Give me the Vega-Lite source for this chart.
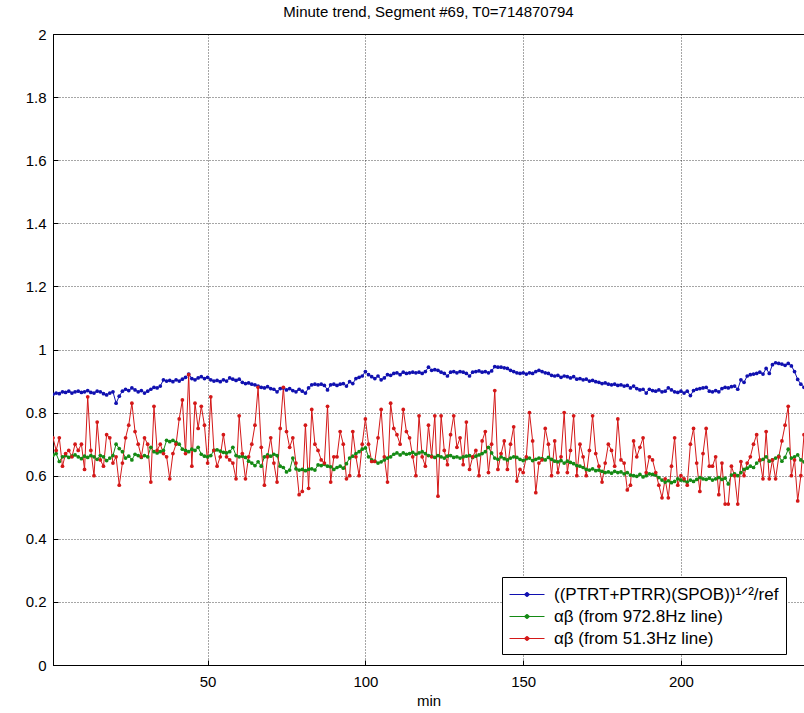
{
  "$schema": "https://vega.github.io/schema/vega-lite/v6.json",
  "width": 751,
  "height": 631,
  "autosize": {"type": "none"},
  "padding": {"left": 53, "top": 34, "right": 0, "bottom": 48},
  "background": "white",
  "config": {
    "font": "Liberation Sans",
    "view": {"stroke": "#000000", "strokeWidth": 1},
    "axis": {
      "domainColor": "#000000",
      "tickColor": "#000000",
      "labelColor": "#000000",
      "titleColor": "#000000",
      "labelFont": "Liberation Sans",
      "titleFont": "Liberation Sans",
      "labelFontSize": 15,
      "titleFontSize": 15,
      "titleFontWeight": "normal",
      "gridColor": "#000000",
      "gridDash": [1, 2],
      "gridOpacity": 0.7,
      "gridWidth": 1
    }
  },
  "title": {
    "text": "Minute trend, Segment #69, T0=714870794",
    "font": "Liberation Sans",
    "fontSize": 15,
    "fontWeight": "normal",
    "color": "#000000",
    "anchor": "middle",
    "frame": "group",
    "offset": 7
  },
  "datasets": {
    "trend": [
      {"t":1,"ratio":0.858,"ab972":0.665,"ab51":0.72},
      {"t":2,"ratio":0.862,"ab972":0.670,"ab51":0.68},
      {"t":3,"ratio":0.860,"ab972":0.645,"ab51":0.72},
      {"t":4,"ratio":0.866,"ab972":0.660,"ab51":0.63},
      {"t":5,"ratio":0.864,"ab972":0.664,"ab51":0.67},
      {"t":6,"ratio":0.868,"ab972":0.658,"ab51":0.68},
      {"t":7,"ratio":0.862,"ab972":0.662,"ab51":0.66},
      {"t":8,"ratio":0.866,"ab972":0.666,"ab51":0.70},
      {"t":9,"ratio":0.868,"ab972":0.660,"ab51":0.68},
      {"t":10,"ratio":0.864,"ab972":0.654,"ab51":0.70},
      {"t":11,"ratio":0.866,"ab972":0.662,"ab51":0.62},
      {"t":12,"ratio":0.870,"ab972":0.658,"ab51":0.85},
      {"t":13,"ratio":0.864,"ab972":0.664,"ab51":0.68},
      {"t":14,"ratio":0.862,"ab972":0.660,"ab51":0.60},
      {"t":15,"ratio":0.868,"ab972":0.652,"ab51":0.77},
      {"t":16,"ratio":0.866,"ab972":0.664,"ab51":0.65},
      {"t":17,"ratio":0.860,"ab972":0.660,"ab51":0.63},
      {"t":18,"ratio":0.856,"ab972":0.648,"ab51":0.73},
      {"t":19,"ratio":0.862,"ab972":0.656,"ab51":0.72},
      {"t":20,"ratio":0.866,"ab972":0.664,"ab51":0.64},
      {"t":21,"ratio":0.830,"ab972":0.700,"ab51":0.66},
      {"t":22,"ratio":0.852,"ab972":0.686,"ab51":0.57},
      {"t":23,"ratio":0.868,"ab972":0.676,"ab51":0.64},
      {"t":24,"ratio":0.874,"ab972":0.656,"ab51":0.72},
      {"t":25,"ratio":0.870,"ab972":0.662,"ab51":0.76},
      {"t":26,"ratio":0.878,"ab972":0.650,"ab51":0.83},
      {"t":27,"ratio":0.872,"ab972":0.668,"ab51":0.74},
      {"t":28,"ratio":0.866,"ab972":0.664,"ab51":0.70},
      {"t":29,"ratio":0.870,"ab972":0.658,"ab51":0.66},
      {"t":30,"ratio":0.862,"ab972":0.664,"ab51":0.72},
      {"t":31,"ratio":0.868,"ab972":0.660,"ab51":0.70},
      {"t":32,"ratio":0.874,"ab972":0.690,"ab51":0.58},
      {"t":33,"ratio":0.880,"ab972":0.676,"ab51":0.82},
      {"t":34,"ratio":0.878,"ab972":0.672,"ab51":0.68},
      {"t":35,"ratio":0.884,"ab972":0.676,"ab51":0.70},
      {"t":36,"ratio":0.904,"ab972":0.680,"ab51":0.67},
      {"t":37,"ratio":0.900,"ab972":0.712,"ab51":0.66},
      {"t":38,"ratio":0.902,"ab972":0.708,"ab51":0.59},
      {"t":39,"ratio":0.898,"ab972":0.712,"ab51":0.67},
      {"t":40,"ratio":0.904,"ab972":0.706,"ab51":0.70},
      {"t":41,"ratio":0.900,"ab972":0.700,"ab51":0.78},
      {"t":42,"ratio":0.906,"ab972":0.684,"ab51":0.84},
      {"t":43,"ratio":0.912,"ab972":0.680,"ab51":0.67},
      {"t":44,"ratio":0.922,"ab972":0.676,"ab51":0.92},
      {"t":45,"ratio":0.908,"ab972":0.684,"ab51":0.63},
      {"t":46,"ratio":0.904,"ab972":0.680,"ab51":0.83},
      {"t":47,"ratio":0.910,"ab972":0.690,"ab51":0.75},
      {"t":48,"ratio":0.914,"ab972":0.668,"ab51":0.82},
      {"t":49,"ratio":0.908,"ab972":0.662,"ab51":0.76},
      {"t":50,"ratio":0.912,"ab972":0.660,"ab51":0.64},
      {"t":51,"ratio":0.904,"ab972":0.664,"ab51":0.85},
      {"t":52,"ratio":0.900,"ab972":0.680,"ab51":0.68},
      {"t":53,"ratio":0.902,"ab972":0.682,"ab51":0.63},
      {"t":54,"ratio":0.898,"ab972":0.678,"ab51":0.66},
      {"t":55,"ratio":0.904,"ab972":0.674,"ab51":0.73},
      {"t":56,"ratio":0.900,"ab972":0.672,"ab51":0.66},
      {"t":57,"ratio":0.910,"ab972":0.676,"ab51":0.65},
      {"t":58,"ratio":0.906,"ab972":0.690,"ab51":0.64},
      {"t":59,"ratio":0.902,"ab972":0.664,"ab51":0.59},
      {"t":60,"ratio":0.906,"ab972":0.660,"ab51":0.79},
      {"t":61,"ratio":0.896,"ab972":0.662,"ab51":0.67},
      {"t":62,"ratio":0.892,"ab972":0.658,"ab51":0.59},
      {"t":63,"ratio":0.894,"ab972":0.646,"ab51":0.66},
      {"t":64,"ratio":0.890,"ab972":0.640,"ab51":0.70},
      {"t":65,"ratio":0.888,"ab972":0.632,"ab51":0.76},
      {"t":66,"ratio":0.884,"ab972":0.644,"ab51":0.88},
      {"t":67,"ratio":0.880,"ab972":0.630,"ab51":0.69},
      {"t":68,"ratio":0.878,"ab972":0.660,"ab51":0.57},
      {"t":69,"ratio":0.882,"ab972":0.666,"ab51":0.66},
      {"t":70,"ratio":0.876,"ab972":0.662,"ab51":0.72},
      {"t":71,"ratio":0.874,"ab972":0.668,"ab51":0.64},
      {"t":72,"ratio":0.866,"ab972":0.664,"ab51":0.58},
      {"t":73,"ratio":0.876,"ab972":0.630,"ab51":0.75},
      {"t":74,"ratio":0.878,"ab972":0.626,"ab51":0.88},
      {"t":75,"ratio":0.872,"ab972":0.612,"ab51":0.74},
      {"t":76,"ratio":0.876,"ab972":0.618,"ab51":0.69},
      {"t":77,"ratio":0.870,"ab972":0.656,"ab51":0.72},
      {"t":78,"ratio":0.866,"ab972":0.622,"ab51":0.64},
      {"t":79,"ratio":0.874,"ab972":0.618,"ab51":0.54},
      {"t":80,"ratio":0.868,"ab972":0.620,"ab51":0.55},
      {"t":81,"ratio":0.862,"ab972":0.616,"ab51":0.76},
      {"t":82,"ratio":0.878,"ab972":0.620,"ab51":0.56},
      {"t":83,"ratio":0.888,"ab972":0.622,"ab51":0.81},
      {"t":84,"ratio":0.890,"ab972":0.618,"ab51":0.70},
      {"t":85,"ratio":0.888,"ab972":0.634,"ab51":0.68},
      {"t":86,"ratio":0.890,"ab972":0.632,"ab51":0.65},
      {"t":87,"ratio":0.886,"ab972":0.636,"ab51":0.64},
      {"t":88,"ratio":0.872,"ab972":0.630,"ab51":0.82},
      {"t":89,"ratio":0.888,"ab972":0.628,"ab51":0.58},
      {"t":90,"ratio":0.890,"ab972":0.620,"ab51":0.66},
      {"t":91,"ratio":0.886,"ab972":0.626,"ab51":0.66},
      {"t":92,"ratio":0.890,"ab972":0.630,"ab51":0.74},
      {"t":93,"ratio":0.892,"ab972":0.624,"ab51":0.70},
      {"t":94,"ratio":0.884,"ab972":0.638,"ab51":0.59},
      {"t":95,"ratio":0.898,"ab972":0.656,"ab51":0.60},
      {"t":96,"ratio":0.892,"ab972":0.662,"ab51":0.74},
      {"t":97,"ratio":0.908,"ab972":0.670,"ab51":0.66},
      {"t":98,"ratio":0.912,"ab972":0.676,"ab51":0.60},
      {"t":99,"ratio":0.916,"ab972":0.684,"ab51":0.70},
      {"t":100,"ratio":0.930,"ab972":0.688,"ab51":0.78},
      {"t":101,"ratio":0.920,"ab972":0.660,"ab51":0.70},
      {"t":102,"ratio":0.914,"ab972":0.650,"ab51":0.645},
      {"t":103,"ratio":0.908,"ab972":0.646,"ab51":0.645},
      {"t":104,"ratio":0.916,"ab972":0.640,"ab51":0.72},
      {"t":105,"ratio":0.904,"ab972":0.644,"ab51":0.81},
      {"t":106,"ratio":0.910,"ab972":0.650,"ab51":0.66},
      {"t":107,"ratio":0.920,"ab972":0.656,"ab51":0.58},
      {"t":108,"ratio":0.918,"ab972":0.660,"ab51":0.83},
      {"t":109,"ratio":0.924,"ab972":0.668,"ab51":0.75},
      {"t":110,"ratio":0.926,"ab972":0.672,"ab51":0.73},
      {"t":111,"ratio":0.920,"ab972":0.666,"ab51":0.70},
      {"t":112,"ratio":0.928,"ab972":0.672,"ab51":0.81},
      {"t":113,"ratio":0.924,"ab972":0.668,"ab51":0.74},
      {"t":114,"ratio":0.926,"ab972":0.670,"ab51":0.72},
      {"t":115,"ratio":0.928,"ab972":0.674,"ab51":0.66},
      {"t":116,"ratio":0.926,"ab972":0.668,"ab51":0.60},
      {"t":117,"ratio":0.928,"ab972":0.672,"ab51":0.79},
      {"t":118,"ratio":0.924,"ab972":0.676,"ab51":0.66},
      {"t":119,"ratio":0.930,"ab972":0.670,"ab51":0.63},
      {"t":120,"ratio":0.944,"ab972":0.664,"ab51":0.76},
      {"t":121,"ratio":0.934,"ab972":0.662,"ab51":0.66},
      {"t":122,"ratio":0.936,"ab972":0.658,"ab51":0.79},
      {"t":123,"ratio":0.934,"ab972":0.664,"ab51":0.535},
      {"t":124,"ratio":0.928,"ab972":0.660,"ab51":0.79},
      {"t":125,"ratio":0.924,"ab972":0.656,"ab51":0.68},
      {"t":126,"ratio":0.916,"ab972":0.662,"ab51":0.635},
      {"t":127,"ratio":0.928,"ab972":0.664,"ab51":0.73},
      {"t":128,"ratio":0.930,"ab972":0.658,"ab51":0.79},
      {"t":129,"ratio":0.926,"ab972":0.660,"ab51":0.69},
      {"t":130,"ratio":0.930,"ab972":0.656,"ab51":0.72},
      {"t":131,"ratio":0.928,"ab972":0.660,"ab51":0.635},
      {"t":132,"ratio":0.924,"ab972":0.662,"ab51":0.77},
      {"t":133,"ratio":0.916,"ab972":0.664,"ab51":0.62},
      {"t":134,"ratio":0.928,"ab972":0.658,"ab51":0.66},
      {"t":135,"ratio":0.930,"ab972":0.662,"ab51":0.68},
      {"t":136,"ratio":0.932,"ab972":0.666,"ab51":0.60},
      {"t":137,"ratio":0.928,"ab972":0.670,"ab51":0.71},
      {"t":138,"ratio":0.930,"ab972":0.676,"ab51":0.74},
      {"t":139,"ratio":0.926,"ab972":0.690,"ab51":0.61},
      {"t":140,"ratio":0.932,"ab972":0.672,"ab51":0.70},
      {"t":141,"ratio":0.946,"ab972":0.656,"ab51":0.87},
      {"t":142,"ratio":0.944,"ab972":0.652,"ab51":0.62},
      {"t":143,"ratio":0.944,"ab972":0.660,"ab51":0.67},
      {"t":144,"ratio":0.942,"ab972":0.654,"ab51":0.71},
      {"t":145,"ratio":0.940,"ab972":0.650,"ab51":0.62},
      {"t":146,"ratio":0.934,"ab972":0.656,"ab51":0.70},
      {"t":147,"ratio":0.930,"ab972":0.660,"ab51":0.755},
      {"t":148,"ratio":0.926,"ab972":0.658,"ab51":0.583},
      {"t":149,"ratio":0.924,"ab972":0.652,"ab51":0.62},
      {"t":150,"ratio":0.926,"ab972":0.648,"ab51":0.61},
      {"t":151,"ratio":0.922,"ab972":0.654,"ab51":0.66},
      {"t":152,"ratio":0.926,"ab972":0.656,"ab51":0.80},
      {"t":153,"ratio":0.924,"ab972":0.648,"ab51":0.71},
      {"t":154,"ratio":0.930,"ab972":0.652,"ab51":0.546},
      {"t":155,"ratio":0.934,"ab972":0.656,"ab51":0.64},
      {"t":156,"ratio":0.930,"ab972":0.654,"ab51":0.65},
      {"t":157,"ratio":0.926,"ab972":0.650,"ab51":0.75},
      {"t":158,"ratio":0.924,"ab972":0.658,"ab51":0.70},
      {"t":159,"ratio":0.918,"ab972":0.652,"ab51":0.60},
      {"t":160,"ratio":0.916,"ab972":0.646,"ab51":0.71},
      {"t":161,"ratio":0.918,"ab972":0.644,"ab51":0.61},
      {"t":162,"ratio":0.912,"ab972":0.648,"ab51":0.66},
      {"t":163,"ratio":0.916,"ab972":0.640,"ab51":0.80},
      {"t":164,"ratio":0.914,"ab972":0.646,"ab51":0.61},
      {"t":165,"ratio":0.910,"ab972":0.642,"ab51":0.68},
      {"t":166,"ratio":0.914,"ab972":0.638,"ab51":0.79},
      {"t":167,"ratio":0.906,"ab972":0.632,"ab51":0.60},
      {"t":168,"ratio":0.908,"ab972":0.630,"ab51":0.70},
      {"t":169,"ratio":0.904,"ab972":0.626,"ab51":0.66},
      {"t":170,"ratio":0.906,"ab972":0.620,"ab51":0.60},
      {"t":171,"ratio":0.900,"ab972":0.618,"ab51":0.68},
      {"t":172,"ratio":0.902,"ab972":0.622,"ab51":0.79},
      {"t":173,"ratio":0.898,"ab972":0.616,"ab51":0.67},
      {"t":174,"ratio":0.896,"ab972":0.618,"ab51":0.63},
      {"t":175,"ratio":0.892,"ab972":0.614,"ab51":0.58},
      {"t":176,"ratio":0.894,"ab972":0.610,"ab51":0.64},
      {"t":177,"ratio":0.890,"ab972":0.612,"ab51":0.70},
      {"t":178,"ratio":0.888,"ab972":0.608,"ab51":0.68},
      {"t":179,"ratio":0.890,"ab972":0.614,"ab51":0.63},
      {"t":180,"ratio":0.886,"ab972":0.610,"ab51":0.78},
      {"t":181,"ratio":0.888,"ab972":0.612,"ab51":0.65},
      {"t":182,"ratio":0.884,"ab972":0.606,"ab51":0.64},
      {"t":183,"ratio":0.886,"ab972":0.610,"ab51":0.555},
      {"t":184,"ratio":0.878,"ab972":0.602,"ab51":0.57},
      {"t":185,"ratio":0.884,"ab972":0.600,"ab51":0.71},
      {"t":186,"ratio":0.876,"ab972":0.598,"ab51":0.66},
      {"t":187,"ratio":0.872,"ab972":0.604,"ab51":0.69},
      {"t":188,"ratio":0.874,"ab972":0.596,"ab51":0.72},
      {"t":189,"ratio":0.862,"ab972":0.600,"ab51":0.61},
      {"t":190,"ratio":0.874,"ab972":0.606,"ab51":0.66},
      {"t":191,"ratio":0.870,"ab972":0.604,"ab51":0.65},
      {"t":192,"ratio":0.868,"ab972":0.602,"ab51":0.61},
      {"t":193,"ratio":0.872,"ab972":0.594,"ab51":0.57},
      {"t":194,"ratio":0.866,"ab972":0.586,"ab51":0.53},
      {"t":195,"ratio":0.868,"ab972":0.580,"ab51":0.59},
      {"t":196,"ratio":0.878,"ab972":0.584,"ab51":0.53},
      {"t":197,"ratio":0.872,"ab972":0.578,"ab51":0.63},
      {"t":198,"ratio":0.866,"ab972":0.582,"ab51":0.72},
      {"t":199,"ratio":0.864,"ab972":0.590,"ab51":0.57},
      {"t":200,"ratio":0.868,"ab972":0.586,"ab51":0.60},
      {"t":201,"ratio":0.862,"ab972":0.584,"ab51":0.59},
      {"t":202,"ratio":0.868,"ab972":0.580,"ab51":0.57},
      {"t":203,"ratio":0.854,"ab972":0.586,"ab51":0.70},
      {"t":204,"ratio":0.870,"ab972":0.582,"ab51":0.75},
      {"t":205,"ratio":0.874,"ab972":0.588,"ab51":0.64},
      {"t":206,"ratio":0.876,"ab972":0.594,"ab51":0.55},
      {"t":207,"ratio":0.878,"ab972":0.590,"ab51":0.67},
      {"t":208,"ratio":0.880,"ab972":0.588,"ab51":0.75},
      {"t":209,"ratio":0.868,"ab972":0.592,"ab51":0.63},
      {"t":210,"ratio":0.866,"ab972":0.586,"ab51":0.63},
      {"t":211,"ratio":0.870,"ab972":0.590,"ab51":0.66},
      {"t":212,"ratio":0.866,"ab972":0.594,"ab51":0.54},
      {"t":213,"ratio":0.876,"ab972":0.588,"ab51":0.64},
      {"t":214,"ratio":0.880,"ab972":0.592,"ab51":0.51},
      {"t":215,"ratio":0.878,"ab972":0.574,"ab51":0.51},
      {"t":216,"ratio":0.882,"ab972":0.602,"ab51":0.63},
      {"t":217,"ratio":0.884,"ab972":0.606,"ab51":0.60},
      {"t":218,"ratio":0.874,"ab972":0.600,"ab51":0.51},
      {"t":219,"ratio":0.904,"ab972":0.610,"ab51":0.645},
      {"t":220,"ratio":0.896,"ab972":0.620,"ab51":0.60},
      {"t":221,"ratio":0.916,"ab972":0.624,"ab51":0.64},
      {"t":222,"ratio":0.920,"ab972":0.630,"ab51":0.66},
      {"t":223,"ratio":0.922,"ab972":0.626,"ab51":0.70},
      {"t":224,"ratio":0.924,"ab972":0.640,"ab51":0.73},
      {"t":225,"ratio":0.928,"ab972":0.648,"ab51":0.65},
      {"t":226,"ratio":0.922,"ab972":0.652,"ab51":0.59},
      {"t":227,"ratio":0.940,"ab972":0.660,"ab51":0.74},
      {"t":228,"ratio":0.924,"ab972":0.646,"ab51":0.59},
      {"t":229,"ratio":0.952,"ab972":0.650,"ab51":0.65},
      {"t":230,"ratio":0.958,"ab972":0.656,"ab51":0.59},
      {"t":231,"ratio":0.956,"ab972":0.662,"ab51":0.66},
      {"t":232,"ratio":0.954,"ab972":0.646,"ab51":0.71},
      {"t":233,"ratio":0.950,"ab972":0.658,"ab51":0.76},
      {"t":234,"ratio":0.956,"ab972":0.684,"ab51":0.82},
      {"t":235,"ratio":0.948,"ab972":0.656,"ab51":0.60},
      {"t":236,"ratio":0.930,"ab972":0.660,"ab51":0.65},
      {"t":237,"ratio":0.905,"ab972":0.666,"ab51":0.52},
      {"t":238,"ratio":0.890,"ab972":0.650,"ab51":0.60},
      {"t":239,"ratio":0.880,"ab972":0.644,"ab51":0.73},
      {"t":240,"ratio":0.872,"ab972":0.640,"ab51":0.70}
    ]
  },
  "data": {"name": "trend"},
  "transform": [
    {"fold": ["ratio", "ab972", "ab51"], "as": ["series", "value"]}
  ],
  "encoding": {
    "x": {
      "field": "t",
      "type": "quantitative",
      "scale": {"domain": [1, 239], "nice": false, "zero": false},
      "axis": {
        "title": "min",
        "values": [50, 100, 150, 200],
        "tickSize": -5,
        "labelPadding": 14,
        "titlePadding": 4,
        "grid": true
      }
    },
    "y": {
      "field": "value",
      "type": "quantitative",
      "scale": {"domain": [0, 2], "nice": false},
      "axis": {
        "title": null,
        "values": [0, 0.2, 0.4, 0.6, 0.8, 1, 1.2, 1.4, 1.6, 1.8, 2],
        "format": ".1~f",
        "tickSize": -5,
        "labelPadding": 12,
        "grid": true
      }
    },
    "color": {
      "field": "series",
      "type": "nominal",
      "scale": {
        "domain": ["ratio", "ab972", "ab51"],
        "range": ["#1010b0", "#148a14", "#d41818"]
      },
      "legend": {
        "title": null,
        "orient": "none",
        "legendX": 449,
        "legendY": 543,
        "fillColor": "#ffffff",
        "strokeColor": "#000000",
        "padding": 7,
        "rowPadding": 3,
        "labelFont": "Liberation Sans",
        "labelFontSize": 17,
        "labelLimit": 400,
        "labelColor": "#000000",
        "labelOffset": 24,
        "symbolSize": 400,
        "symbolStrokeWidth": 1,
        "symbolType": "M-1,0H2.5M0.55,0A0.2,0.2 0 1,1 0.95,0A0.2,0.2 0 1,1 0.55,0",
        "labelExpr": "datum.value == 'ratio' ? '((PTRT+PTRR)(SPOB))¹ᐟ²/ref' : datum.value == 'ab972' ? 'αβ (from 972.8Hz line)' : 'αβ (from 51.3Hz line)'",
        "encode": {
          "symbols": {
            "update": {
              "fill": {"scale": "color", "field": "value"},
              "stroke": {"scale": "color", "field": "value"}
            }
          }
        }
      }
    }
  },
  "layer": [
    {
      "mark": {"type": "line", "strokeWidth": 1, "clip": true}
    },
    {
      "mark": {"type": "point", "filled": true, "size": 14, "opacity": 1, "clip": true}
    }
  ]
}
